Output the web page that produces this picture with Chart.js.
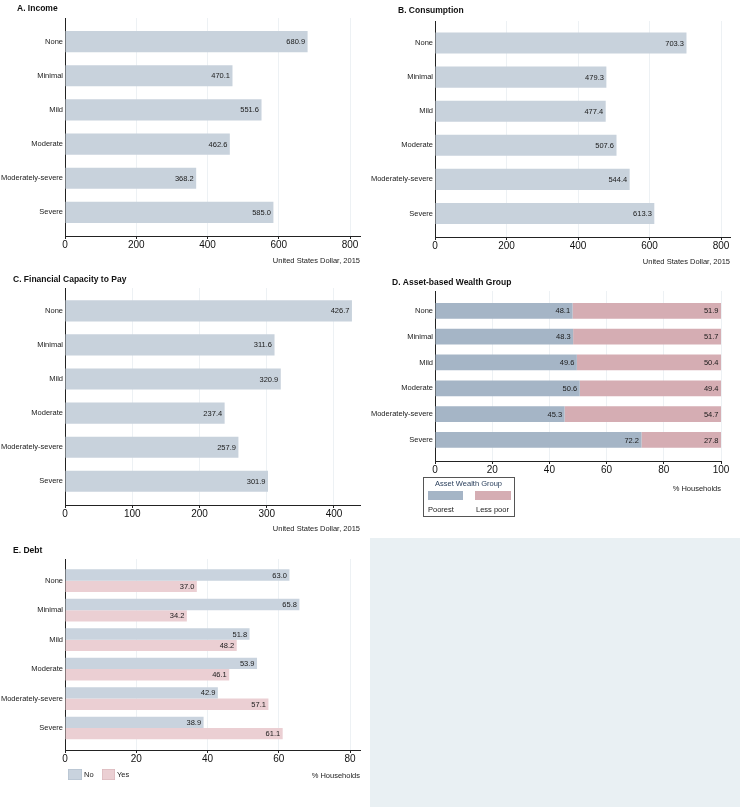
<!DOCTYPE html>
<html>
<head>
<meta charset="utf-8">
<title>Depression severity and household economics</title>
<script src="https://cdn.jsdelivr.net/npm/chart.js@4.4.1/dist/chart.umd.min.js"></script>
<style>
    body { margin: 0; width: 740px; height: 807px; position: relative; background: #fff; overflow: hidden; }
    .panel { position: absolute; }
    #emptyCell { position: absolute; left: 370px; top: 538px; width: 370px; height: 269px; background: #e9f0f3; }
</style>
</head>
<body>
<div class="panel" style="left:0;top:0"><canvas id="incomeChart" width="370" height="268"></canvas></div>
<div class="panel" style="left:370px;top:0"><canvas id="consumptionChart" width="370" height="268"></canvas></div>
<div class="panel" style="left:0;top:268px"><canvas id="capacityChart" width="370" height="268"></canvas></div>
<div class="panel" style="left:370px;top:268px"><canvas id="wealthChart" width="370" height="270"></canvas></div>
<div class="panel" style="left:0;top:536px"><canvas id="debtChart" width="370" height="271"></canvas></div>
<div id="emptyCell"></div>

<script>
// Data
const severity = ['None', 'Minimal', 'Mild', 'Moderate', 'Moderately-severe', 'Severe'];
const income = [680.9, 470.1, 551.6, 462.6, 368.2, 585.0];
const consumption = [703.3, 479.3, 477.4, 507.6, 544.4, 613.3];
const capacity = [426.7, 311.6, 320.9, 237.4, 257.9, 301.9];
const poorest = [48.1, 48.3, 49.6, 50.6, 45.3, 72.2];
const lessPoor = [51.9, 51.7, 50.4, 49.4, 54.7, 27.8];
const debtNo = [63.0, 65.8, 51.8, 53.9, 42.9, 38.9];
const debtYes = [37.0, 34.2, 48.2, 46.1, 57.1, 61.1];
const usdTicks = [0, 200, 400, 600, 800];
const capacityTicks = [0, 100, 200, 300, 400];
const wealthTicks = [0, 20, 40, 60, 80, 100];
const debtTicks = [0, 20, 40, 60, 80];

const FONT = '"Liberation Sans", Arial, Helvetica, sans-serif';
Chart.defaults.font.family = FONT;
Chart.defaults.color = '#111';

const points = values => values.map((v, i) => ({ x: v, y: i }));
const fixedTicks = values => scale => { scale.ticks = values.map(v => ({ value: v })); };

// value printed inside the end of each bar
const valueLabels = {
    id: 'valueLabels',
    afterDatasetsDraw(chart) {
        const ctx = chart.ctx;
        ctx.save();
        ctx.font = '7.5px ' + FONT;
        ctx.fillStyle = '#1a1a1a';
        ctx.textAlign = 'right';
        ctx.textBaseline = 'middle';
        chart.data.datasets.forEach((ds, di) => {
            chart.getDatasetMeta(di).data.forEach((bar, i) => {
                ctx.fillText(ds.data[i].x.toFixed(1), bar.x - 2.5, bar.y + 0.5);
            });
        });
        ctx.restore();
    }
};

const panelTitle = {
    id: 'panelTitle',
    afterDraw(chart, args, opts) {
        const ctx = chart.ctx;
        ctx.save();
        ctx.font = 'bold 8.5px ' + FONT;
        ctx.fillStyle = '#111';
        ctx.textBaseline = 'middle';
        ctx.fillText(opts.text, opts.x, opts.y);
        ctx.restore();
    }
};

// small legend drawn from the dataset labels and colours
const swatchLegend = {
    id: 'swatchLegend',
    afterDraw(chart, args, opts) {
        if (!opts.items) return;
        const ctx = chart.ctx;
        ctx.save();
        if (opts.box) {
            const b = opts.box;
            ctx.fillStyle = '#fff';
            ctx.fillRect(b[0], b[1], b[2], b[3]);
            ctx.strokeStyle = '#555';
            ctx.lineWidth = 1;
            ctx.strokeRect(b[0] + 0.5, b[1] + 0.5, b[2], b[3]);
            ctx.font = '7.5px ' + FONT;
            ctx.fillStyle = '#2a3f5c';
            ctx.textAlign = 'center';
            ctx.textBaseline = 'middle';
            ctx.fillText(opts.title, b[0] + b[2] / 2, opts.titleY);
        }
        ctx.font = '7.5px ' + FONT;
        ctx.textAlign = 'left';
        ctx.textBaseline = 'middle';
        opts.items.forEach((it, i) => {
            const ds = chart.data.datasets[i];
            ctx.fillStyle = ds.backgroundColor;
            ctx.fillRect(it.sx, it.sy, it.sw, it.sh);
            ctx.strokeStyle = ds.borderColor || ds.backgroundColor;
            ctx.lineWidth = 0.6;
            ctx.strokeRect(it.sx + 0.3, it.sy + 0.3, it.sw - 0.6, it.sh - 0.6);
            ctx.fillStyle = '#1a1a1a';
            ctx.fillText(ds.label, it.tx, it.ty);
        });
        ctx.restore();
    }
};

function buildPanel(canvasId, p) {
    const canvas = document.getElementById(canvasId);
    const w = canvas.width, h = canvas.height;
    const titleBottom = p.axisTitleY + 4.5;
    return new Chart(canvas, {
        type: 'bar',
        data: { datasets: p.datasets },
        options: {
            indexAxis: 'y',
            responsive: false,
            animation: false,
            devicePixelRatio: 1,
            events: [],
            categoryPercentage: p.catPct || 1,
            barPercentage: p.barPct,
            layout: {
                padding: { left: 0, top: p.area[1], right: w - p.area[2], bottom: h - titleBottom }
            },
            scales: {
                x: {
                    type: 'linear',
                    min: 0,
                    max: p.xMax,
                    stacked: !!p.stacked,
                    afterBuildTicks: fixedTicks(p.xTicks),
                    afterFit: s => { s.height = titleBottom - p.area[3]; },
                    grid: { color: '#edf1f4', tickColor: '#222', tickLength: 3 },
                    border: { color: '#222', width: 1 },
                    ticks: { font: { size: 10 }, color: '#111', padding: 0.5, maxRotation: 0, autoSkip: false },
                    title: { display: true, text: p.axisTitle, align: 'end', padding: 0, color: '#222', font: { size: 7.5 } }
                },
                y: {
                    type: 'linear',
                    reverse: true,
                    offset: false,
                    min: p.yMin,
                    max: p.yMax,
                    stacked: !!p.stacked,
                    afterBuildTicks: fixedTicks(severity.map((s, i) => i)),
                    afterFit: s => { s.width = p.area[0]; },
                    grid: { display: false, drawTicks: false, offset: false },
                    border: { color: '#222', width: 1 },
                    ticks: { callback: v => severity[v], font: { size: 7.5 }, color: '#1a1a1a', padding: 2, autoSkip: false }
                }
            },
            plugins: {
                legend: { display: false },
                tooltip: { enabled: false },
                panelTitle: p.title,
                swatchLegend: p.legend || {}
            }
        },
        plugins: [valueLabels, panelTitle, swatchLegend]
    });
}

const usdColor = '#c8d2dc';

// A. Income
buildPanel('incomeChart', {
    area: [65, 18, 360, 236],
    yMin: -0.69, yMax: 5.69,
    xMax: 828, xTicks: usdTicks,
    barPct: 0.62,
    axisTitle: 'United States Dollar, 2015', axisTitleY: 261,
    title: { text: 'A. Income', x: 17, y: 9 },
    datasets: [{ label: 'Income', data: points(income), backgroundColor: usdColor }]
});

// B. Consumption
buildPanel('consumptionChart', {
    area: [65, 21, 360, 237],
    yMin: -0.645, yMax: 5.689,
    xMax: 825, xTicks: usdTicks,
    barPct: 0.62,
    axisTitle: 'United States Dollar, 2015', axisTitleY: 262,
    title: { text: 'B. Consumption', x: 28, y: 11 },
    datasets: [{ label: 'Consumption', data: points(consumption), backgroundColor: usdColor }]
});

// C. Financial Capacity to Pay
buildPanel('capacityChart', {
    area: [65, 20, 360, 237],
    yMin: -0.669, yMax: 5.695,
    xMax: 438.7, xTicks: capacityTicks,
    barPct: 0.62,
    axisTitle: 'United States Dollar, 2015', axisTitleY: 261,
    title: { text: 'C. Financial Capacity to Pay', x: 13, y: 12 },
    datasets: [{ label: 'Financial Capacity to Pay', data: points(capacity), backgroundColor: usdColor }]
});

// D. Asset-based Wealth Group
buildPanel('wealthChart', {
    area: [65, 23, 351, 193],
    yMin: -0.766, yMax: 5.813,
    xMax: 100, xTicks: wealthTicks,
    barPct: 0.61,
    stacked: true,
    axisTitle: '% Households', axisTitleY: 221,
    title: { text: 'D. Asset-based Wealth Group', x: 22, y: 15 },
    legend: {
        box: [53, 209, 91, 39],
        title: 'Asset Wealth Group',
        titleY: 216,
        items: [
            { sx: 58, sy: 223, sw: 35, sh: 9, tx: 58, ty: 242 },
            { sx: 105, sy: 223, sw: 36, sh: 9, tx: 106, ty: 242 }
        ]
    },
    datasets: [
        { label: 'Poorest', data: points(poorest), backgroundColor: '#a5b5c6' },
        { label: 'Less poor', data: points(lessPoor), backgroundColor: '#d5adb3' }
    ]
});

// E. Debt
buildPanel('debtChart', {
    area: [65, 23, 360, 214],
    yMin: -0.737, yMax: 5.746,
    xMax: 82.8, xTicks: debtTicks,
    catPct: 0.77, barPct: 1,
    axisTitle: '% Households', axisTitleY: 240,
    title: { text: 'E. Debt', x: 13, y: 15 },
    legend: {
        items: [
            { sx: 68, sy: 233, sw: 14, sh: 11, tx: 84, ty: 239 },
            { sx: 102, sy: 233, sw: 13, sh: 11, tx: 117, ty: 239 }
        ]
    },
    datasets: [
        { label: 'No', data: points(debtNo), backgroundColor: '#c9d3de', borderColor: '#b3c0ce' },
        { label: 'Yes', data: points(debtYes), backgroundColor: '#ebcfd3', borderColor: '#d9b6bb' }
    ]
});
</script>
</body>
</html>
